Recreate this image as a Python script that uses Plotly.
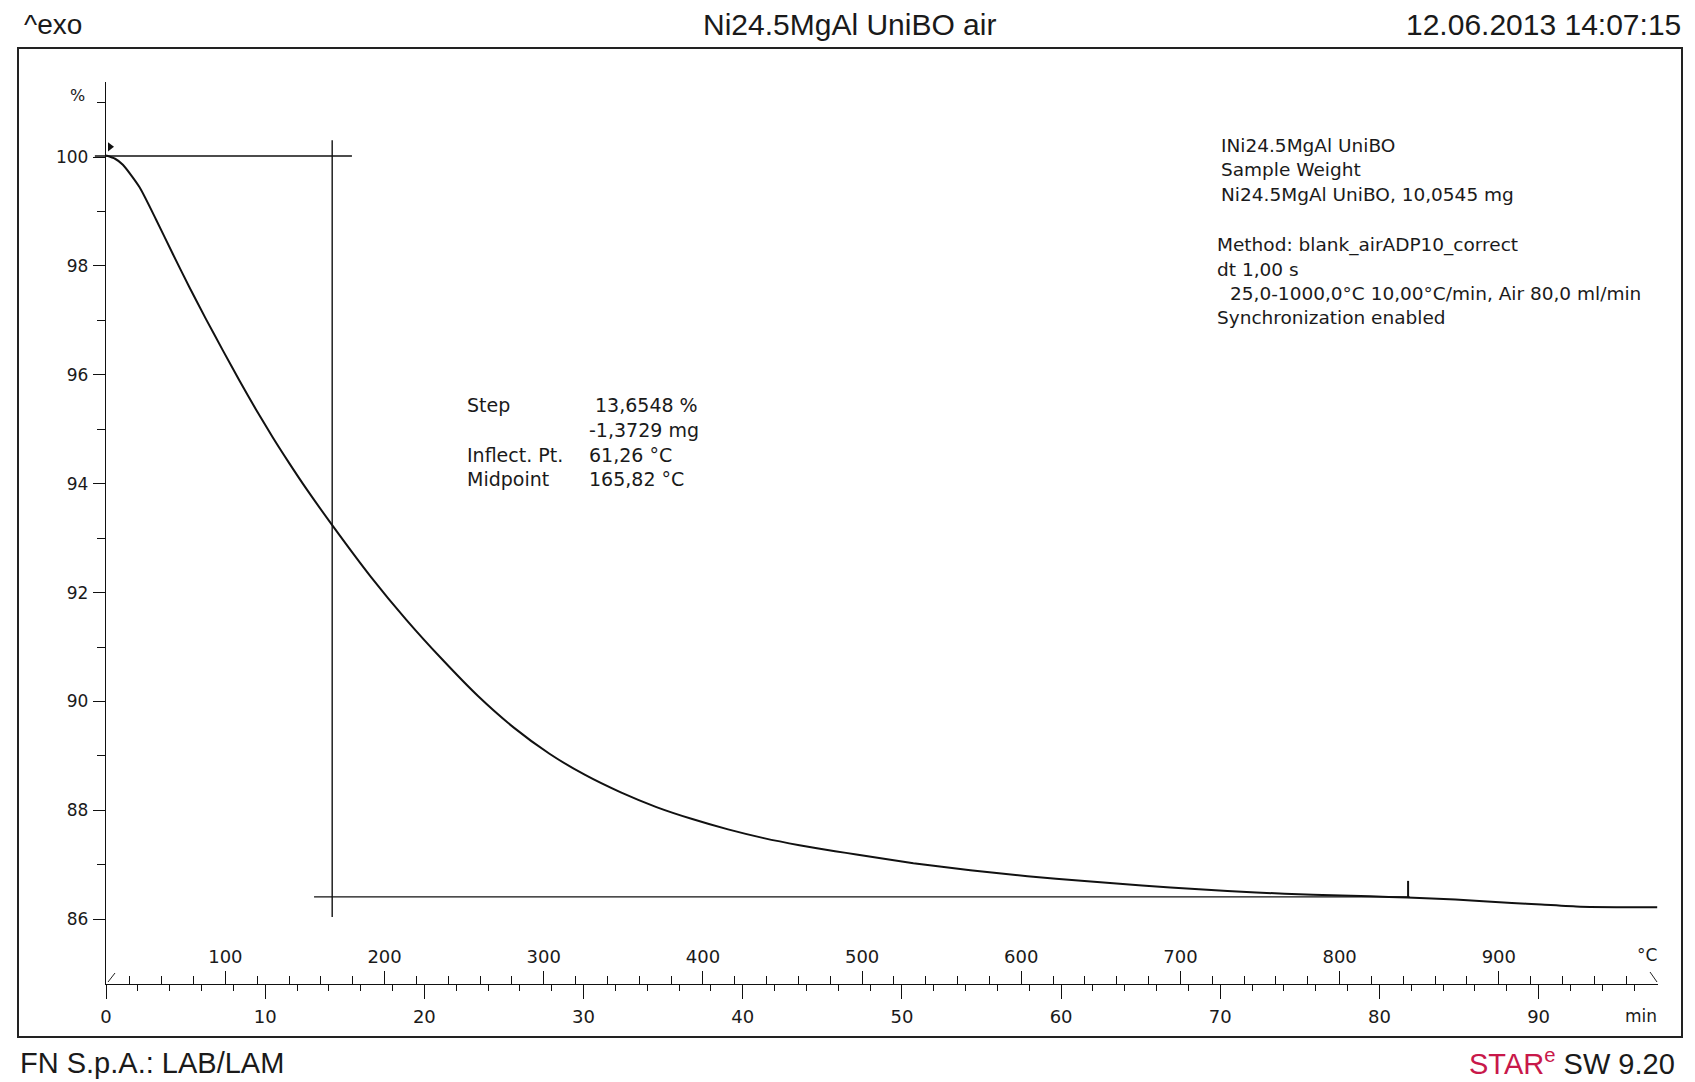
import plotly.graph_objects as go

# ---------------- data ----------------
time_min = [0.0, 0.57, 1.06, 2.10, 3.15, 4.20, 5.24, 6.29, 7.34, 8.39, 9.43, 10.48,
            11.53, 12.58, 14.21, 16.64, 18.87, 21.13, 23.37, 25.62, 27.86, 30.10,
            32.34, 34.58, 36.83, 39.08, 41.32, 43.56, 45.80, 47.14, 50.72, 54.30,
            57.89, 61.47, 65.08, 68.66, 72.25, 75.83, 79.42, 81.75, 84.77, 88.32,
            90.17, 92.62, 97.45]
mass_pct = [100.03, 99.97, 99.86, 99.45, 98.85, 98.22, 97.61, 97.02, 96.45, 95.89,
            95.36, 94.85, 94.37, 93.91, 93.24, 92.29, 91.50, 90.77, 90.10, 89.52,
            89.04, 88.65, 88.33, 88.06, 87.84, 87.65, 87.49, 87.36, 87.25, 87.19,
            87.03, 86.90, 86.79, 86.70, 86.62, 86.55, 86.49, 86.45, 86.42, 86.40,
            86.36, 86.30, 86.27, 86.23, 86.22]

# method: 25 -> 1000 degC at 10 degC/min
temp_start = 25.0
temp_end = 1000.0
heating_rate = 10.0

time_ticks = [0, 10, 20, 30, 40, 50, 60, 70, 80, 90]
time_minor = [2, 4, 6, 8, 12, 14, 16, 18, 22, 24, 26, 28, 32, 34, 36, 38, 42, 44, 46, 48,
              52, 54, 56, 58, 62, 64, 66, 68, 72, 74, 76, 78, 82, 84, 86, 88, 92, 94, 96]
temp_ticks = [100, 200, 300, 400, 500, 600, 700, 800, 900]
temp_minor = [40, 60, 80, 120, 140, 160, 180, 220, 240, 260, 280, 320, 340, 360, 380,
              420, 440, 460, 480, 520, 540, 560, 580, 620, 640, 660, 680, 720, 740, 760,
              780, 820, 840, 860, 880, 920, 940, 960, 980]
pct_ticks = [86, 88, 90, 92, 94, 96, 98, 100]
pct_minor = [85, 87, 89, 91, 93, 95, 97, 99, 101]

# step evaluation
step_top = 100.02
step_bottom = 86.41
step_mid_time = 14.21
step_top_span = [-0.7, 15.45]
step_bottom_span = [13.07, 81.9]
step_vert_span = [86.04, 100.31]
limit_marks_time = [0.25, 81.8]
limit_marks_pct = [100.19, 86.55]

step_labels = ["Step", "", "Inflect. Pt.", "Midpoint"]
step_values = [" 13,6548 %", "-1,3729 mg", "61,26 °C", "165,82 °C"]

info_lines = ["INi24.5MgAl UniBO", "Sample Weight", "Ni24.5MgAl UniBO, 10,0545 mg", "",
              "Method: blank_airADP10_correct", "dt 1,00 s",
              "  25,0-1000,0°C 10,00°C/min, Air 80,0 ml/min", "Synchronization enabled"]

x_range = [0.0, (temp_end - temp_start) / heating_rate]
y_range = [84.81, 101.38]

# ---------------- layout geometry (pixels) ----------------
FW, FH = 1695, 1082
L, R, T, B = 106, 1658, 82, 984
W, H = R - L, B - T


def px(x):
    return (x - L) / W


def py(y):
    return (B - y) / H


def dx(t):
    return (t - x_range[0]) / (x_range[1] - x_range[0])


TXT = "#1a1a1a"
FONT = "DejaVu Sans"
HFONT = "Liberation Sans"

fig = go.Figure()

fig.add_trace(go.Scatter(
    x=time_min, y=mass_pct, mode="lines",
    line=dict(color="#111111", width=2, shape="spline", smoothing=0.6),
    hoverinfo="skip", showlegend=False))

# invisible helper trace so that the temperature axis is drawn
fig.add_trace(go.Scatter(
    x=[temp_start, temp_end], y=[None, None], xaxis="x2", yaxis="y",
    mode="lines", hoverinfo="skip", showlegend=False))

# evaluation limit marks
fig.add_trace(go.Scatter(
    x=[limit_marks_time[0]], y=[limit_marks_pct[0]], mode="markers",
    marker=dict(symbol="triangle-right", size=8, color="#111111"),
    hoverinfo="skip", showlegend=False, cliponaxis=False))
fig.add_trace(go.Scatter(
    x=[limit_marks_time[1]], y=[limit_marks_pct[1]], mode="markers",
    marker=dict(symbol="line-ns", size=12, line=dict(width=2, color="#111111")),
    hoverinfo="skip", showlegend=False, cliponaxis=False))

shapes = []
# step baseline lines
shapes.append(dict(type="line", xref="x domain", yref="y",
                   x0=dx(step_top_span[0]), x1=dx(step_top_span[1]),
                   y0=step_top, y1=step_top, line=dict(color="#111111", width=1.4)))
shapes.append(dict(type="line", xref="x", yref="y",
                   x0=step_bottom_span[0], x1=step_bottom_span[1],
                   y0=step_bottom, y1=step_bottom, line=dict(color="#111111", width=1.4)))
shapes.append(dict(type="line", xref="x", yref="y",
                   x0=step_mid_time, x1=step_mid_time,
                   y0=step_vert_span[0], y1=step_vert_span[1],
                   line=dict(color="#111111", width=1.4)))
# outer frame
shapes.append(dict(type="rect", xref="paper", yref="paper",
                   x0=px(18), x1=px(1682), y0=py(1037), y1=py(48),
                   line=dict(color="#222222", width=2), fillcolor="rgba(0,0,0,0)"))
# small axis end strokes
shapes.append(dict(type="line", xref="paper", yref="paper",
                   x0=px(108), y0=py(982), x1=px(115), y1=py(973),
                   line=dict(color="#222222", width=1)))
shapes.append(dict(type="line", xref="paper", yref="paper",
                   x0=px(1650), y0=py(972), x1=px(1657), y1=py(982),
                   line=dict(color="#222222", width=1)))

ann = []


def text(x, y, s, size=19, anchor="left", color=TXT, family=FONT):
    ann.append(dict(xref="paper", yref="paper", x=px(x), y=py(y), text=s,
                    showarrow=False, xanchor=anchor, yanchor="middle",
                    font=dict(family=family, size=size, color=color)))


# header / footer
text(22, 24, "^exo", size=28, family=HFONT)
text(849, 24, "Ni24.5MgAl UniBO air", size=30, anchor="center", family=HFONT)
text(1683, 24, "12.06.2013 14:07:15", size=30, anchor="right", family=HFONT)
text(18, 1063, "FN S.p.A.: LAB/LAM", size=29, family=HFONT)
text(1677, 1062, '<span style="color:#c8184a">STAR<sup>e</sup></span> SW 9.20',
     size=29, anchor="right", family=HFONT)

# axis unit labels
text(87, 95, "%", size=16, anchor="right")
text(1659, 955, "°C", size=17, anchor="right")
text(1659, 1016, "min", size=17, anchor="right")

# step evaluation text
row_y = [405, 430, 455, 479]
for yy, lab, val in zip(row_y, step_labels, step_values):
    if lab:
        text(465, yy, lab)
    xv = 593 if val.startswith(" ") else 587
    text(xv, yy, val.strip())

# info block
info_y = [145, 170, 195, 220, 245, 269, 293, 317]
for yy, line in zip(info_y, info_lines):
    if not line:
        continue
    if line.startswith("  "):
        text(1228, yy, line.strip(), size=18.5)
    elif line.startswith("Method") or line.startswith("dt") or line.startswith("Sync"):
        text(1215, yy, line, size=18.5)
    else:
        text(1219, yy, line, size=18.5)

fig.update_layout(
    width=FW, height=FH,
    margin=dict(l=L, r=FW - R, t=T, b=FH - B, autoexpand=False),
    paper_bgcolor="white", plot_bgcolor="white",
    showlegend=False,
    shapes=shapes, annotations=ann,
    xaxis=dict(range=x_range, showline=True, linecolor="#111111", linewidth=1.3,
               showgrid=False, zeroline=False, ticks="outside", tickmode="array",
               tickvals=time_ticks, ticklen=14, tickwidth=1.2, tickcolor="#111111",
               ticklabelstandoff=2,
               tickfont=dict(family=FONT, size=18, color=TXT),
               minor=dict(tickmode="array", tickvals=time_minor, ticks="outside",
                          ticklen=6, tickwidth=1, tickcolor="#111111", showgrid=False)),
    xaxis2=dict(range=[temp_start + heating_rate * x_range[0],
                       temp_start + heating_rate * x_range[1]],
                overlaying="x", anchor="y", side="bottom", showline=False,
                showgrid=False, zeroline=False, ticks="inside", tickmode="array",
                tickvals=temp_ticks, ticklen=13, tickwidth=1.2, tickcolor="#111111",
                ticklabelposition="inside", ticklabelstandoff=5,
                tickfont=dict(family=FONT, size=18, color=TXT),
                minor=dict(tickmode="array", tickvals=temp_minor, ticks="inside",
                           ticklen=8, tickwidth=1, tickcolor="#111111", showgrid=False)),
    yaxis=dict(range=y_range, showline=True, linecolor="#111111", linewidth=1.3,
               showgrid=False, zeroline=False, ticks="outside", tickmode="array",
               tickvals=pct_ticks, ticklen=12, tickwidth=1.2, tickcolor="#111111",
               ticklabelstandoff=1,
               tickfont=dict(family=FONT, size=17, color=TXT),
               minor=dict(tickmode="array", tickvals=pct_minor, ticks="outside",
                          ticklen=8, tickwidth=1, tickcolor="#111111", showgrid=False)),
)

fig.write_html("out.html")
